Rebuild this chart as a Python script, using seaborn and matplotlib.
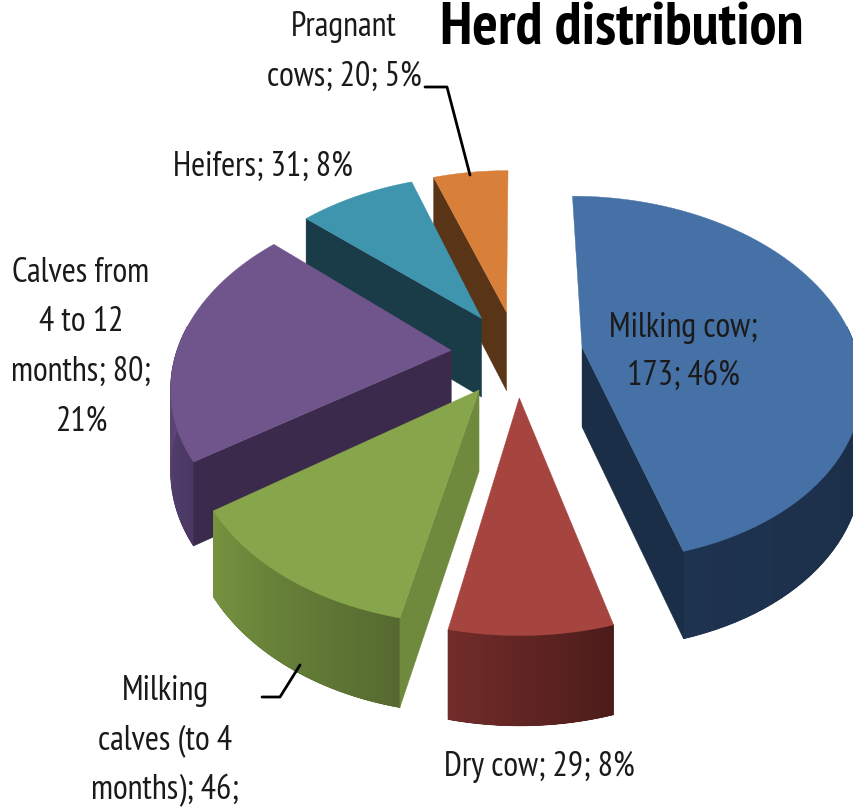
import matplotlib
matplotlib.use("Agg")

import matplotlib.pyplot as plt
import numpy as np
import seaborn as sns

LABELS = ["Milking cow", "Dry cow", "Milking calves (to 4 months)", "Calves from 4 to 12 months", "Heifers", "Pragnant cows"]
VALUES = [173, 29, 46, 80, 31, 20]
TOP_COLORS = ["#4671a6", "#a64440", "#87a54b", "#70558c", "#3f94ae", "#d8803a"]
SIDE_LEFT = ["#1e3350", "#722c2a", "#76933f", "#5f4a7a", "#1a3c48", "#593416"]
SIDE_RIGHT = ["#1a2c44", "#4c1c1a", "#566a30", "#4a3763", "#1a3c48", "#593416"]
CUT_COLORS = ["#1b2e47", None, "#6f8a3c", "#3b2a4b", "#1a3c48", "#593416"]
DRAW_ORDER = [5, 4, 3, 2, 0, 1]

# fake 3d projection, fitted to the picture
CX, CY = 517, 353
RX, RY = 275, 179
PERSP = 0.173
EXPLODE = 0.24
HEIGHT = 80


def project(x, y):
    s = 1 / (1 + PERSP * y)
    return CX + RX * x * s, CY - RY * y * s, s


def slice_outline(start, end, n=80):
    mid = np.radians((start + end) / 2)
    ox, oy = EXPLODE * np.sin(mid), EXPLODE * np.cos(mid)
    th = np.radians(np.linspace(start, end, n))
    return (ox, oy), ox + np.sin(th), oy + np.cos(th), th


def draw_slice(ax, start, end, top, left, right, cut):
    (ox, oy), xs, ys, th = slice_outline(start, end)
    px, py, ps = project(xs, ys)
    drop = HEIGHT * np.sqrt(ps)

    # outer wall in strips for the gradient, back of the pie stays hidden
    front = np.where(np.cos(th) < 0.15)[0]
    if len(front) > 1:
        a, b = front[0], front[-1]
        ax.fill(
            np.r_[px[a:b + 1], px[a:b + 1][::-1]],
            np.r_[py[a:b + 1], (py + drop)[a:b + 1][::-1]],
            color=right, lw=0.5,
        )
        strips = sns.blend_palette([right, left], b - a)
        for i in range(a, b):
            j = min(i + 3, b)
            ax.fill(
                [px[i], px[j], px[j], px[i]],
                [py[i], py[j], py[j] + drop[j], py[i] + drop[i]],
                color=strips[i - a], lw=0,
            )

    ax_, ay_, as_ = project(ox, oy)
    apex_drop = HEIGHT * np.sqrt(as_)
    if cut is not None:
        # clockwise from 12, the wedges on the left show their first edge, the big one its last
        k = 0 if start > 180 else -1
        ax.fill(
            [ax_, px[k], px[k], ax_],
            [ay_, py[k], py[k] + drop[k], ay_ + apex_drop],
            color=cut, lw=0.3,
        )

    ax.fill(np.r_[ax_, px], np.r_[ay_, py], color=top, lw=0.3)


sns.set_theme(style="white")
plt.rcParams["font.family"] = ["PT Sans Narrow", "Liberation Sans", "DejaVu Sans"]

fig = plt.figure(figsize=(8.54, 8.07), dpi=100)
ax = fig.add_axes([0, 0, 1, 1])
ax.set_xlim(0, 854)
ax.set_ylim(807, 0)
ax.axis("off")

edges = np.r_[0, np.cumsum(VALUES)] / sum(VALUES) * 360

# leader lines go under the slices
ax.plot([425, 447, 470], [87, 87, 175], color="black", lw=2)
ax.plot([262, 280, 300], [697, 697, 665], color="black", lw=2)

for i in DRAW_ORDER:
    draw_slice(ax, edges[i], edges[i + 1], TOP_COLORS[i], SIDE_LEFT[i], SIDE_RIGHT[i], CUT_COLORS[i])

TEXT = "#1a1a1a"
FS = 24.5
ax.text(622, 29, "Herd distribution", fontsize=43.4, fontweight="bold", color="black", ha="center", va="center")
ax.text(344, 52, "Pragnant\ncows; 20; 5%", fontsize=FS, color=TEXT, ha="center", va="center", linespacing=1.74)
ax.text(263, 167, "Heifers; 31; 8%", fontsize=FS, color=TEXT, ha="center", va="center")
ax.text(81, 347, "Calves from\n4 to 12\nmonths; 80;\n21%", fontsize=FS, color=TEXT, ha="center", va="center", linespacing=1.7)
ax.text(683, 352, "Milking cow;\n173; 46%", fontsize=FS, color=TEXT, ha="center", va="center", linespacing=1.64)
ax.text(539, 767, "Dry cow; 29; 8%", fontsize=FS, color=TEXT, ha="center", va="center")
ax.text(165, 741, "Milking\ncalves (to 4\nmonths); 46;", fontsize=FS, color=TEXT, ha="center", va="center", linespacing=1.67)

fig.savefig("out.png", dpi=100, facecolor="white")
